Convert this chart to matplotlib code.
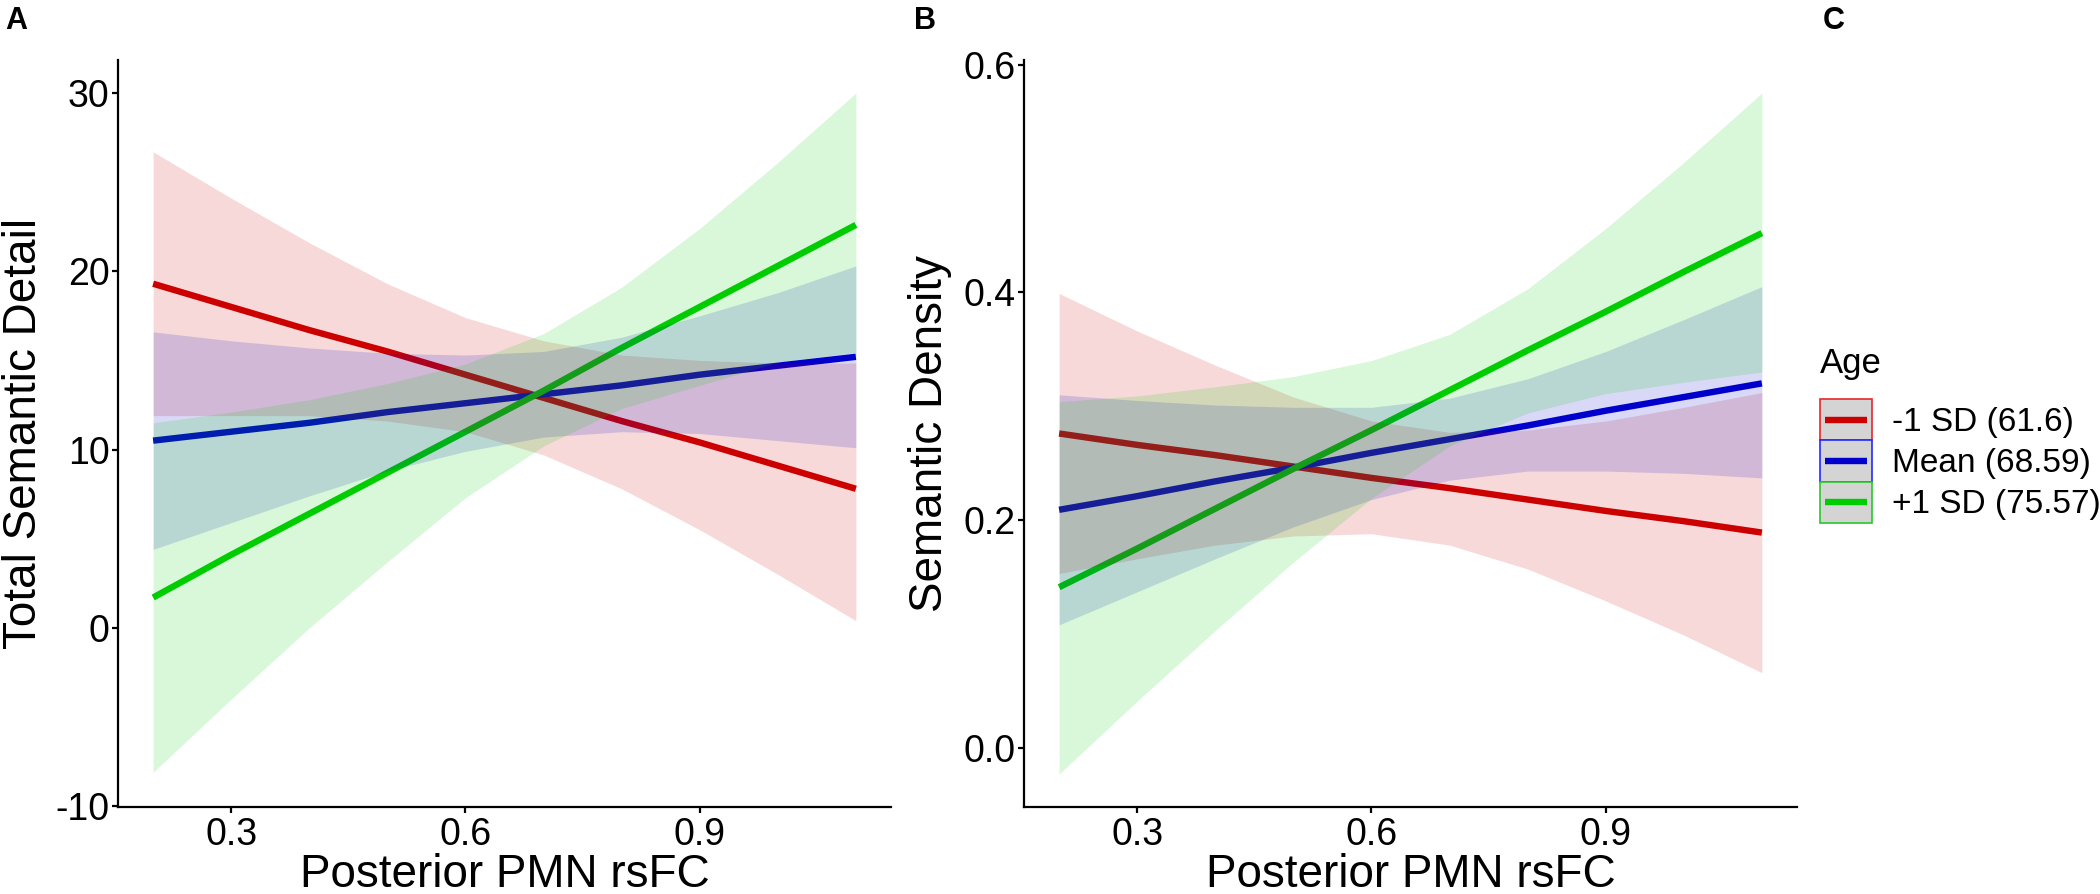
"""Simple slopes of posterior PMN rsFC by age (-1 SD, mean, +1 SD), two outcomes."""

import matplotlib
matplotlib.use("Agg")
import matplotlib.pyplot as plt
from matplotlib.lines import Line2D
from matplotlib.patches import Rectangle

plt.rcParams["font.family"] = ["Liberation Sans", "DejaVu Sans"]
plt.rcParams["axes.unicode_minus"] = False

# prediction grid (posterior PMN rsFC)
RSFC = [0.2, 0.3, 0.4, 0.5, 0.6, 0.7, 0.8, 0.9, 1.0, 1.1]

AGE_LABELS = ["-1 SD (61.6)", "Mean (68.59)", "+1 SD (75.57)"]

# panel A: total semantic detail
DETAIL_FIT = {
    "low": [19.3, 18.0, 16.7, 15.5, 14.2, 12.9, 11.6, 10.4, 9.1, 7.8],
    "mean": [10.5, 11.0, 11.5, 12.1, 12.6, 13.1, 13.6, 14.2, 14.7, 15.2],
    "high": [1.7, 4.1, 6.4, 8.7, 11.0, 13.3, 15.7, 18.0, 20.3, 22.6],
}
DETAIL_LO = {
    "low": [11.9, 11.9, 11.9, 11.6, 11.0, 9.7, 7.8, 5.5, 3.0, 0.4],
    "mean": [4.4, 5.9, 7.4, 8.8, 9.9, 10.7, 11.0, 10.9, 10.5, 10.1],
    "high": [-8.1, -4.0, 0.0, 3.7, 7.3, 10.2, 12.3, 13.6, 14.9, 15.45],
}
DETAIL_HI = {
    "low": [26.7, 24.1, 21.6, 19.3, 17.4, 16.1, 15.3, 15.0, 14.85, 14.85],
    "mean": [16.6, 16.1, 15.7, 15.4, 15.3, 15.5, 16.3, 17.5, 18.8, 20.3],
    "high": [11.5, 12.1, 12.8, 13.7, 14.8, 16.5, 19.1, 22.4, 26.1, 30.0],
}

# panel B: semantic density
DENSITY_FIT = {
    "low": [0.276, 0.266, 0.257, 0.247, 0.237, 0.228, 0.218, 0.208, 0.199, 0.189],
    "mean": [0.209, 0.221, 0.234, 0.246, 0.259, 0.271, 0.283, 0.296, 0.308, 0.320],
    "high": [0.141, 0.175, 0.210, 0.245, 0.279, 0.314, 0.349, 0.383, 0.418, 0.452],
}
DENSITY_LO = {
    "low": [0.153, 0.166, 0.178, 0.186, 0.188, 0.178, 0.157, 0.129, 0.099, 0.066],
    "mean": [0.108, 0.137, 0.166, 0.194, 0.218, 0.235, 0.243, 0.243, 0.241, 0.237],
    "high": [-0.023, 0.041, 0.103, 0.163, 0.219, 0.265, 0.294, 0.311, 0.321, 0.330],
}
DENSITY_HI = {
    "low": [0.399, 0.366, 0.336, 0.308, 0.287, 0.277, 0.279, 0.287, 0.299, 0.312],
    "mean": [0.310, 0.305, 0.301, 0.299, 0.299, 0.307, 0.324, 0.348, 0.376, 0.405],
    "high": [0.304, 0.309, 0.317, 0.326, 0.340, 0.363, 0.403, 0.456, 0.514, 0.575],
}

GROUPS = ["low", "mean", "high"]
COLORS = {"low": "#CD0000", "mean": "#0000CD", "high": "#00CD00"}
EDGES = {"low": "#E8282A", "mean": "#2828FF", "high": "#28C828"}

TICK_SIZE = 27
LABEL_SIZE = 33


class AgeKeyHandler:
    """Grey square key with coloured border and a short line, like ggplot's."""

    def legend_artist(self, legend, orig_handle, fontsize, handlebox):
        x0, y0 = -handlebox.xdescent, -handlebox.ydescent
        w, h = handlebox.width, handlebox.height
        color = orig_handle.get_color()
        rect = Rectangle((x0, y0), w, h, facecolor="#D4D4D4",
                         edgecolor=orig_handle.get_markeredgecolor(), lw=1.2,
                         transform=handlebox.get_transform())
        line = Line2D([x0 + 0.1 * w, x0 + 0.9 * w], [y0 + h / 2, y0 + h / 2],
                      color=color, lw=4.6, solid_capstyle="butt",
                      transform=handlebox.get_transform())
        handlebox.add_artist(rect)
        handlebox.add_artist(line)
        return rect


def draw_panel(ax, fit, lo, hi, ylabel, ylim, yticks, ytick_fmt):
    # lines first, ribbons on top (that is what darkens the lines where bands overlap)
    for g in GROUPS:
        ax.plot(RSFC, fit[g], color=COLORS[g], lw=4.6, solid_capstyle="butt", zorder=2)
    for g in GROUPS:
        ax.fill_between(RSFC, lo[g], hi[g], color=COLORS[g], alpha=0.15, lw=0, zorder=3)

    ax.set_xlim(0.155, 1.145)
    ax.set_ylim(*ylim)
    ax.set_xticks([0.3, 0.6, 0.9])
    ax.set_xticklabels(["0.3", "0.6", "0.9"])
    ax.set_yticks(yticks)
    ax.set_yticklabels([ytick_fmt.format(v) for v in yticks])

    for side in ["top", "right"]:
        ax.spines[side].set_visible(False)
    for side in ["left", "bottom"]:
        ax.spines[side].set_linewidth(1.6)
        ax.spines[side].set_color("black")
    ax.tick_params(axis="both", labelsize=TICK_SIZE, length=4, width=1.6, color="black")
    ax.tick_params(axis="x", pad=3)
    ax.tick_params(axis="y", pad=2)

    ax.set_xlabel("Posterior PMN rsFC", fontsize=LABEL_SIZE)
    ax.set_ylabel(ylabel, fontsize=LABEL_SIZE)
    ax.xaxis.set_label_coords(0.5, -0.062)
    ax.yaxis.set_label_coords(-0.093, 0.5)


def main():
    fig = plt.figure(figsize=(21, 8.94), dpi=100)
    W, H = 2100, 894

    def axes_at(left, top, right, bottom):
        return fig.add_axes([left / W, 1 - bottom / H, (right - left) / W, (bottom - top) / H])

    ax_a = axes_at(118, 60, 891, 807)
    ax_b = axes_at(1024, 60, 1797, 807)

    draw_panel(ax_a, DETAIL_FIT, DETAIL_LO, DETAIL_HI, "Total Semantic Detail",
               (-10.05, 31.85), [-10, 0, 10, 20, 30], "{:g}")
    draw_panel(ax_b, DENSITY_FIT, DENSITY_LO, DENSITY_HI, "Semantic Density",
               (-0.052, 0.604), [0.0, 0.2, 0.4, 0.6], "{:.1f}")

    for x, letter in [(5, "A"), (914, "B"), (1823, "C")]:
        fig.text(x / W, 1 - 6 / H, letter, fontsize=22, fontweight="bold", va="top", ha="left")

    # legend
    fig.text(1820 / W, 1 - 347 / H, "Age", fontsize=25, va="top", ha="left")
    handles = [Line2D([], [], color=COLORS[g], markeredgecolor=EDGES[g]) for g in GROUPS]
    fig.legend(handles, AGE_LABELS, loc="upper left",
               bbox_to_anchor=(1820 / W, 1 - 399 / H), frameon=False,
               fontsize=24, borderpad=0, borderaxespad=0, labelspacing=0,
               handlelength=1.56, handleheight=1.53, handletextpad=0.6,
               handler_map={Line2D: AgeKeyHandler()})

    fig.savefig("out.png", dpi=100)
    plt.close(fig)


if __name__ == "__main__":
    main()
